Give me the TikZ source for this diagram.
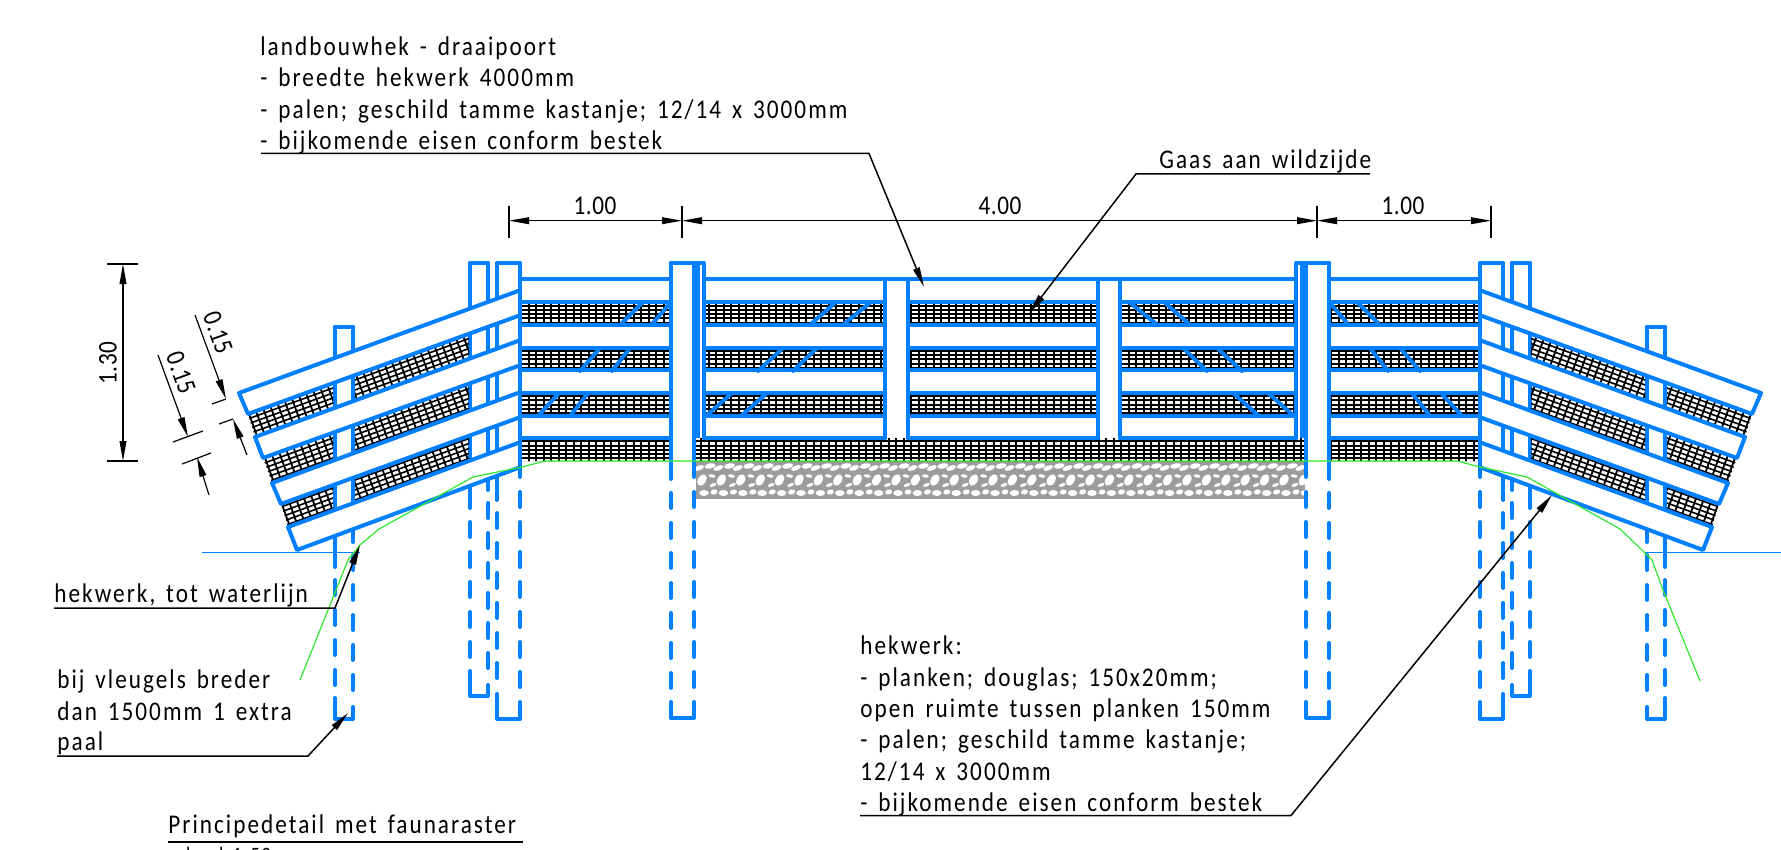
\documentclass[tikz,border=0pt]{standalone}
\usepackage{fontspec}
\usetikzlibrary{arrows.meta}
\newfontfamily\isofont[LetterSpace=7.5,WordSpace=1.5,FakeStretch=0.86]{Carlito}
\newfontfamily\isodim[LetterSpace=2,FakeStretch=0.86]{Carlito}
\definecolor{cadblue}{HTML}{0080FF}
\definecolor{cadgreen}{HTML}{30E830}
\definecolor{gravelgrey}{HTML}{9C9C9C}
\tikzset{
  bl/.style={draw=cadblue,line width=2pt,line cap=round,line join=round},
  bldash/.style={bl,dash pattern=on 7.5pt off 7.5pt},
  railw/.style={bl,fill=white},
  meshl/.style={draw=black,line width=.9pt},
  blk/.style={draw=black,line width=.6pt},
  lead/.style={draw=black,line width=.75pt},
  tipped/.style={-{Triangle[length=10pt,width=3.4pt]}},
  txt/.style={font=\isofont\fontsize{13.5}{15}\selectfont,inner sep=0pt,anchor=base west,text=black},
  dimt/.style={font=\isodim\fontsize{13.5}{15}\selectfont,inner sep=0pt,anchor=center,text=black},
  green/.style={draw=cadgreen,line width=.6pt},
}
% one post line: x, top, end of solid, start of dashes, end of dashes
\newcommand\pline[5]{\draw[bl] (#1,#2)--(#1,#3);\draw[bldash] (#1,#4)--(#1,#5);}
% wing and posts on the left side; mirrored for the right side
\newcommand\wingside{%
  % wing posts
  \pline{335}{327}{567}{580}{692}
  \pline{353}{327}{542}{555}{698}
  \pline{470}{263}{508}{522}{664}
  \pline{488}{263}{490}{503}{675}
  \pline{497}{263}{500}{513}{686}
  \draw[bl] (335,698)--(335,719)--(353,719)--(353,707);
  \draw[bl] (335,327)--(353,327);
  \draw[bl] (470,671)--(470,696)--(488,696)--(488,685);
  \draw[bl] (470,263)--(488,263);
  \draw[bl] (497,694)--(497,719)--(520,719)--(520,702);
  \draw[bl] (497,263)--(520,263);
  % wing mesh
  \begin{scope}
    \clip (248,414)--(333,383)--(333,408.5)--(255,437)--cycle
          (355,375)--(469,333.3)--(469,358.8)--(355,400.5)--cycle
          (263,458)--(333,432.4)--(333,460.7)--(272,483)--cycle
          (355,424.4)--(469,382.7)--(469,410.9)--(355,452.6)--cycle
          (281,504)--(333,485)--(333,510.7)--(288,527)--cycle
          (355,477)--(469,435.3)--(469,461)--(355,502.6)--cycle;
    \begin{scope}[rotate around={20:(400,430)}]
      \foreach \i in {0,...,26} {\draw[draw=black,line width=.8pt] (180,330+4.7*\i*2)--(620,330+4.7*\i*2);}
      \foreach \i in {0,...,58} {\draw[meshl] (180+7.6*\i,300)--(180+7.6*\i,570);}
      \foreach \i in {0,...,26} {\draw[draw=black,line width=.8pt] (180,334.7+4.7*\i*2)--(620,334.7+4.7*\i*2);}
    \end{scope}
  \end{scope}
  % wing rails
  \draw[railw] (518,291)--(239,393)--(248,414)--(518,316);
  \draw[railw] (518,341)--(255,437)--(263,458)--(518,366);
  \draw[railw] (518,393)--(272,483)--(281,504)--(518,418);
  \draw[railw] (518,443)--(288,527)--(297,550)--(518,468);
  % line in front of the rails
  \pline{520}{263}{477}{492}{692}
  % main post
  \fill[white] (671,263) rectangle (694,461);
  \pline{671}{263}{479}{493}{692}
  \pline{694}{263}{477}{492}{692}
  \draw[bl] (671,263)--(694,263);
  \draw[bl] (671,702)--(671,718)--(694,718)--(694,702);
  \draw[bl] (694,263)--(704,263)--(704,438);
  \draw[draw=cadblue,line width=3pt] (697,263)--(697,438);
  % flat diagonals of the end panel
  \foreach \xa/\xb/\ya/\yb in {622/643/323/302,653/671/323/302,580/600/371/348,612/630/371/348,538/559/416/393,570/588/416/393}
    {\draw[bl] (\xa,\ya)--(\xb,\yb);}
  % diagonals of the gate half
  \foreach \xa/\xb/\ya/\yb in {812/836/323/302,845/871/323/302,758/783/371/348,793/817/371/348,706/732/416/393,741/767/416/393}
    {\draw[bl] (\xa,\ya)--(\xb,\yb);}
  % rails of the end panel
  \foreach \yy in {279,302,325,348,370,393,416,438} {\draw[bl] (520,\yy)--(671,\yy);}
}
\begin{document}
\begin{tikzpicture}[x=.5pt,y=-.5pt]
\useasboundingbox (0,0) rectangle (1781,850);
\clip (0,0) rectangle (1781,850);
% gravel
\fill[gravelgrey] (696,461) rectangle (1305,499);
\begin{scope}
  \clip (696,461) rectangle (1305,499);
  \foreach \i in {0,...,31} {
    \fill[white] (702+19.4*\i,480) ellipse [x radius=3.1pt,y radius=2pt,rotate=60];
    \fill[white] (712+19.4*\i,476) ellipse [x radius=1.7pt,y radius=.8pt,rotate=-10];
    \fill[white] (713+19.4*\i,485) ellipse [x radius=1.8pt,y radius=.8pt,rotate=20];
    \fill[white] (699+19.4*\i,468) ellipse [x radius=2.6pt,y radius=1.2pt,rotate=20];
    \fill[white] (710+19.4*\i,466) ellipse [x radius=2.8pt,y radius=1.3pt,rotate=10];
    \fill[white] (704+19.4*\i,493) ellipse [x radius=2.4pt,y radius=1.5pt,rotate=0];
    \fill[white] (714+19.4*\i,492) ellipse [x radius=1.8pt,y radius=1.3pt,rotate=15];
  }
\end{scope}
% flat mesh
\begin{scope}
  \clip (520,302) rectangle (671,325) (520,348) rectangle (671,370) (520,393) rectangle (671,416)
        (705,302) rectangle (885,325) (705,348) rectangle (885,370) (705,393) rectangle (885,416)
        (908,302) rectangle (1098,325) (908,348) rectangle (1098,370) (908,393) rectangle (1098,416)
        (1120,302) rectangle (1295,325) (1120,348) rectangle (1295,370) (1120,393) rectangle (1295,416)
        (1329,302) rectangle (1480,325) (1329,348) rectangle (1480,370) (1329,393) rectangle (1480,416)
        (520,438) rectangle (671,461) (696,438) rectangle (1305,461) (1329,438) rectangle (1480,461);
  \foreach \i in {0,...,39} {\draw[draw=black,line width=1pt] (515,302+4.1*\i)--(1485,302+4.1*\i);}
  \foreach \i in {0,...,128} {\draw[draw=black,line width=1pt] (521+7.5*\i,298)--(521+7.5*\i,465);}
\end{scope}
% left and right side
\wingside
\begin{scope}[shift={(2000,0)},xscale=-1]
  \wingside
\end{scope}
% gate: rails and stiles
\draw[bl] (704,279)--(1296,279);
\foreach \yy in {302,325,348,370,393,416,438} {
  \draw[bl] (704,\yy)--(885,\yy);
  \draw[bl] (908,\yy)--(1098,\yy);
  \draw[bl] (1120,\yy)--(1296,\yy);
}
\foreach \xx in {885,908,1098,1120} {\draw[bl] (\xx,279)--(\xx,438);}
% water line
\draw[draw=cadblue,line width=.65pt] (202,552.5)--(360,552.5);
\draw[draw=cadblue,line width=.65pt] (1645,552.5)--(1781,552.5);
% ground line
\draw[green] (300,680)--(348,560)--(360,545)--(379,529)--(473,477)--(522,467)--(545,461)--(1457,461)--(1480,467)--(1527,477)--(1620,529)--(1645,553)--(1652,560)--(1663,590)--(1700,681);
% texts
\node[txt] (t1a) at (260,56) {landbouwhek - draaipoort};
\node[txt] (t1b) at (260,87) {- breedte hekwerk 4000mm};
\node[txt] (t1c) at (260,119) {- palen; geschild tamme kastanje; 12/14 x 3000mm};
\node[txt] (t1d) at (260,150) {- bijkomende eisen conform bestek};
\node[txt] (t2) at (1159,169) {Gaas aan wildzijde};
\node[txt] (t3) at (54,602) {hekwerk, tot waterlijn};
\node[txt] (t4a) at (57,688) {bij vleugels breder};
\node[txt] (t4b) at (57,720) {dan 1500mm 1 extra};
\node[txt] (t4c) at (57,750) {paal};
\node[txt] (t5) at (168,833) {Principedetail met faunaraster};
\node[txt,font=\isofont\fontsize{11}{13}\selectfont] (t6) at (167,862) {schaal 1:50};
\node[txt] (t7a) at (860,654) {hekwerk:};
\node[txt] (t7b) at (860,686) {- planken; douglas; 150x20mm;};
\node[txt] (t7c) at (860,717) {open ruimte tussen planken 150mm};
\node[txt] (t7d) at (860,748) {- palen; geschild tamme kastanje;};
\node[txt] (t7e) at (860,780) {12/14 x 3000mm};
\node[txt] (t7f) at (860,811) {- bijkomende eisen conform bestek};
% leaders
\coordinate (l1a) at (261,153.5); \coordinate (l1b) at (869,153.5); \coordinate (l1c) at (924,287);
\draw[lead,tipped] (l1a)--(l1b)--(l1c);
\coordinate (l2a) at (1370,174); \coordinate (l2b) at (1136,174); \coordinate (l2c) at (1029,313);
\draw[lead,tipped] (l2a)--(l2b)--(l2c);
\coordinate (l3a) at (54,608); \coordinate (l3b) at (335,608); \coordinate (l3c) at (360,545);
\draw[lead,tipped] (l3a)--(l3b)--(l3c);
\coordinate (l4a) at (57,756); \coordinate (l4b) at (308,756); \coordinate (l4c) at (348,713);
\draw[lead,tipped] (l4a)--(l4b)--(l4c);
\coordinate (l5a) at (860,815.5); \coordinate (l5b) at (1291,815.5); \coordinate (l5c) at (1552,495);
\draw[lead,tipped] (l5a)--(l5b)--(l5c);
\coordinate (l6a) at (168,842); \coordinate (l6b) at (523,842);
\draw[draw=black,line width=.9pt] (l6a)--(l6b);
% horizontal dimensions
\coordinate (d0) at (509,220.7); \coordinate (d1) at (682,220.7); \coordinate (d2) at (1317,220.7); \coordinate (d3) at (1491,220.7);
\foreach \p in {d0,d1,d2,d3} {\draw[blk] ([yshift=7.5pt]\p)--([yshift=-8.5pt]\p);}
\draw[blk,{Triangle[length=10pt,width=3.4pt]}-{Triangle[length=10pt,width=3.4pt]}] (d0)--(d1);
\draw[blk,{Triangle[length=10pt,width=3.4pt]}-{Triangle[length=10pt,width=3.4pt]}] (d1)--(d2);
\draw[blk,{Triangle[length=10pt,width=3.4pt]}-{Triangle[length=10pt,width=3.4pt]}] (d2)--(d3);
\node[dimt] (dt1) at (595,206) {1.00};
\node[dimt] (dt2) at (1000,206) {4.00};
\node[dimt] (dt3) at (1403,206) {1.00};
% 1.30
\coordinate (h0) at (123,264); \coordinate (h1) at (123,461);
\foreach \p in {h0,h1} {\draw[blk] ([xshift=-8pt]\p)--([xshift=7.5pt]\p);}
\draw[blk,{Triangle[length=10pt,width=3.4pt]}-{Triangle[length=10pt,width=3.4pt]}] (h0)--(h1);
\node[dimt,rotate=90] (dt4) at (108,363) {1.30};
% 0.15 right
\coordinate (a0) at (195,315); \coordinate (a1) at (226,399); \coordinate (a2) at (212,404);
\coordinate (a3) at (247,455); \coordinate (a4) at (233,419); \coordinate (a5) at (219,424);
\draw[blk,tipped] (a0)--(a1); \draw[blk] (a2)--(a1);
\draw[blk,tipped] (a3)--(a4); \draw[blk] (a5)--(a4);
\node[dimt,rotate=-70] (dt5) at (218,333) {0.15};
% 0.15 left
\coordinate (b0) at (158,355); \coordinate (b1) at (188,437); \coordinate (b2) at (173,442); \coordinate (b3) at (203,431);
\coordinate (b4) at (209,495); \coordinate (b5) at (197,457); \coordinate (b6) at (182,464); \coordinate (b7) at (211,453);
\draw[blk,tipped] (b0)--(b1); \draw[blk] (b2)--(b3);
\draw[blk,tipped] (b4)--(b5); \draw[blk] (b6)--(b7);
\node[dimt,rotate=-70] (dt6) at (181,373) {0.15};
\end{tikzpicture}
\end{document}
